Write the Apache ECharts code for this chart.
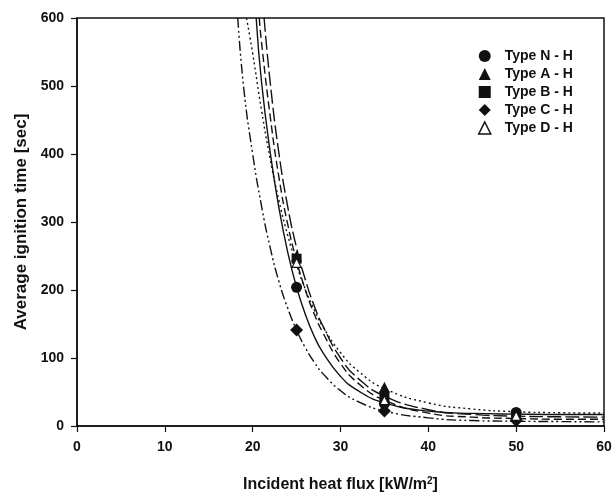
<!DOCTYPE html>
<html>
<head>
<meta charset="utf-8">
<script src="https://cdn.jsdelivr.net/npm/echarts@6/dist/echarts.min.js"></script>
<style>
html,body{margin:0;padding:0;background:#fff;}
#main{width:615px;height:498px;}
</style>
</head>
<body>
<div id="main"></div>
<script>
// measured points (x = heat flux, y = ignition time)
var fluxPoints = [25, 35, 50];
var timeN = [204, 33, 20];
var timeA = [250, 57, 17];
var timeB = [246, 44, 14];
var timeC = [141, 22, 8];
var timeD = [240, 38, 15];

// fitted curves
var curveSolidX = [20.4, 21, 22, 23, 24, 25, 26, 27, 28, 30, 32, 35, 40, 45, 50, 55, 60];
var curveSolidY = [600, 507, 402, 320, 255, 204, 164, 132, 108, 73, 52, 34, 22, 18.5, 17.5, 17, 17];
var curveDotX = [19.3, 20, 21, 22, 23, 24, 25, 26, 27, 28, 30, 32, 35, 40, 45, 50, 55, 60];
var curveDotY = [600, 548, 465, 392, 331, 280, 237, 201, 171, 146, 108, 81, 55, 34, 25, 21, 19.5, 19];
var curveMidDashX = [20.75, 21, 22, 23, 24, 25, 26, 27, 28, 30, 32, 35, 40, 45, 50, 55, 60];
var curveMidDashY = [600, 565, 455, 365, 296, 243, 200, 165, 137, 92, 63, 38, 19, 13, 11, 10, 10];
var curveLongDashX = [21.3, 22, 23, 24, 25, 26, 27, 28, 30, 32, 35, 40, 45, 50, 55, 60];
var curveLongDashY = [600, 505, 400, 322, 262, 215, 177, 147, 100, 70, 44, 24, 17, 14.5, 13.5, 13];
var curveDashDotX = [18.3, 19, 20, 21, 22, 23, 24, 25, 26, 27, 28, 30, 32, 35, 40, 45, 50, 55, 60];
var curveDashDotY = [600, 495, 400, 324, 262, 212, 173, 141, 115, 94, 77, 52, 36, 22, 12, 8, 7, 6.5, 6];

var xTicks = [0, 10, 20, 30, 40, 50, 60];
var yTicks = [0, 100, 200, 300, 400, 500, 600];

var FONT = 'Liberation Sans, Arial, sans-serif';
var INK = '#111';

function pairs(xs, ys) {
    var out = [];
    for (var i = 0; i < xs.length; i++) {
        out.push([xs[i], ys[i]]);
    }
    return out;
}

function fitLine(xs, ys, dash) {
    return {
        type: 'line',
        data: pairs(xs, ys),
        showSymbol: false,
        smooth: 0.5,
        silent: true,
        z: 1,
        lineStyle: {color: INK, width: 1.4, type: dash}
    };
}

function pointSeries(name, ys, symbol, size, fill) {
    return {
        name: name,
        type: 'scatter',
        data: pairs(fluxPoints, ys),
        symbol: symbol,
        symbolSize: size,
        z: 5,
        itemStyle: {color: fill, borderColor: INK, borderWidth: fill === '#fff' ? 1.2 : 0, opacity: 1}
    };
}

var myChart = echarts.init(document.getElementById('main'), null, {renderer: 'canvas'});
var option = {
    animation: false,
    backgroundColor: '#fff',
    grid: {
        left: 77, right: 11, top: 18, bottom: 71,
        show: true, borderColor: INK, borderWidth: 1.5
    },
    legend: {
        orient: 'vertical',
        left: 473, top: 44,
        itemWidth: 12, itemHeight: 12, itemGap: 4,
        data: ['Type N - H', 'Type A - H', 'Type B - H', 'Type C - H',
            {name: 'Type D - H', itemStyle: {borderWidth: 1.5}}],
        textStyle: {fontFamily: FONT, fontSize: 14, fontWeight: 'bold', color: INK, padding: [0, 0, 0, 9]}
    },
    xAxis: {
        type: 'value',
        min: xTicks[0], max: xTicks[xTicks.length - 1], interval: 10,
        name: 'Incident heat flux [kW/m{sup|2}]',
        nameLocation: 'middle', nameGap: 50,
        nameTextStyle: {
            fontFamily: FONT, fontSize: 16, fontWeight: 'bold', color: INK,
            rich: {sup: {fontFamily: FONT, fontSize: 10, fontWeight: 'bold', color: INK, verticalAlign: 'top', padding: [0, 0, 8, 0]}}
        },
        axisLine: {lineStyle: {color: INK, width: 1.5}},
        axisTick: {inside: false, length: 6, lineStyle: {color: INK, width: 1.2}},
        axisLabel: {margin: 14, fontFamily: FONT, fontSize: 14, fontWeight: 'bold', color: INK},
        splitLine: {show: false}
    },
    yAxis: {
        type: 'value',
        min: yTicks[0], max: yTicks[yTicks.length - 1], interval: 100,
        name: 'Average ignition time [sec]',
        nameLocation: 'middle', nameGap: 47,
        nameTextStyle: {fontFamily: FONT, fontSize: 17, fontWeight: 'bold', color: INK},
        axisLine: {lineStyle: {color: INK, width: 1.5}},
        axisTick: {inside: false, length: 6, lineStyle: {color: INK, width: 1.2}},
        axisLabel: {margin: 13, fontFamily: FONT, fontSize: 14, fontWeight: 'bold', color: INK},
        splitLine: {show: false}
    },
    series: [
        fitLine(curveSolidX, curveSolidY, 'solid'),
        fitLine(curveDotX, curveDotY, [2, 3]),
        fitLine(curveMidDashX, curveMidDashY, [8, 4]),
        fitLine(curveLongDashX, curveLongDashY, [14, 4]),
        fitLine(curveDashDotX, curveDashDotY, [10, 3, 2, 3, 2, 3]),
        pointSeries('Type N - H', timeN, 'circle', 11, INK),
        pointSeries('Type A - H', timeA, 'triangle', 11, INK),
        pointSeries('Type B - H', timeB, 'rect', 10, INK),
        pointSeries('Type C - H', timeC, 'diamond', 13, INK),
        pointSeries('Type D - H', timeD, 'triangle', 9, '#fff')
    ]
};
myChart.setOption(option);
</script>
</body>
</html>
